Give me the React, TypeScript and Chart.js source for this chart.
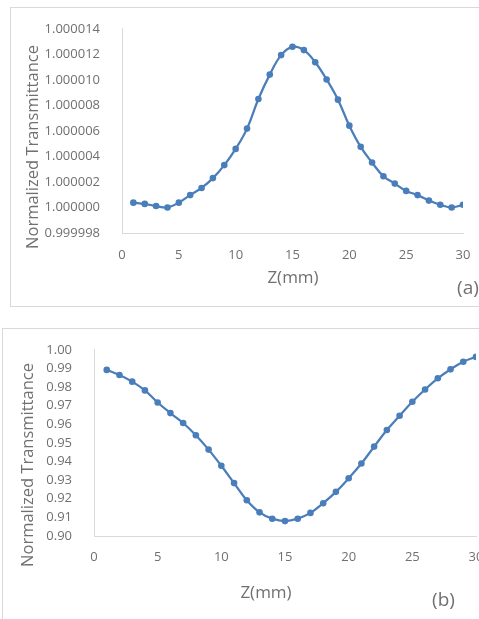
import React, { useEffect, useRef } from "react";
import { Chart, registerables } from "chart.js";

Chart.register(...registerables);

// ---------- data ----------
const zA = [1, 2, 3, 4, 5, 6, 7, 8, 9, 10, 11, 12, 13, 14, 15, 16, 17, 18, 19, 20, 21, 22, 23, 24, 25, 26, 27, 28, 29, 30];
const tA = [
  1.00000038, 1.00000028, 1.00000011, 1.0, 1.00000038, 1.00000097, 1.00000153, 1.0000023, 1.00000332, 1.00000459,
  1.00000618, 1.0000085, 1.00001041, 1.00001194, 1.00001259, 1.00001233, 1.00001138, 1.00001003, 1.00000845, 1.00000641,
  1.00000475, 1.00000352, 1.00000245, 1.00000187, 1.0000013, 1.00000097, 1.00000054, 1.00000021, 1.0, 1.00000021,
];
const yTicksA = [0.999998, 1.0, 1.000002, 1.000004, 1.000006, 1.000008, 1.00001, 1.000012, 1.000014];

const zB = [1, 2, 3, 4, 5, 6, 7, 8, 9, 10, 11, 12, 13, 14, 15, 16, 17, 18, 19, 20, 21, 22, 23, 24, 25, 26, 27, 28, 29, 30];
const tB = [
  0.9892, 0.9865, 0.9829, 0.9782, 0.9717, 0.966, 0.9607, 0.9541, 0.9464, 0.9377,
  0.9284, 0.9192, 0.9127, 0.9093, 0.908, 0.9093, 0.9124, 0.9176, 0.9237, 0.931,
  0.9389, 0.948, 0.9569, 0.9646, 0.9721, 0.9787, 0.9847, 0.9895, 0.9936, 0.9962,
];
const yTicksB = [0.9, 0.91, 0.92, 0.93, 0.94, 0.95, 0.96, 0.97, 0.98, 0.99, 1.0];

const xTicks = [0, 5, 10, 15, 20, 25, 30];

const yTitle = "Normalized Transmittance";
const xTitle = "Z(mm)";

const FONT = "'Open Sans', 'DejaVu Sans', sans-serif";
const TEXT = "#707070";
const AXIS = "#d9d9d9";
const LINE = "#4a7ebb";

type TextItem = { text: string; x: number; y: number; size: number; rotate?: boolean };

type PanelProps = {
  left: number;
  top: number;
  width: number;
  height: number;
  z: number[];
  t: number[];
  yTicks: number[];
  decimals: number;
  plot: { left: number; top: number; right: number; bottom: number };
  yPad: number;
  xPad: number;
  texts: TextItem[];
};

function Panel(p: PanelProps) {
  const ref = useRef<HTMLCanvasElement | null>(null);
  useEffect(() => {
    if (!ref.current) return;
    const yMin = p.yTicks[0];
    const yMax = p.yTicks[p.yTicks.length - 1];
    const textPlugin = {
      id: "panelText",
      afterDraw(chart: any) {
        const ctx = chart.ctx as CanvasRenderingContext2D;
        p.texts.forEach((it) => {
          ctx.save();
          ctx.font = `${it.size}px ${FONT}`;
          ctx.fillStyle = TEXT;
          ctx.textAlign = "center";
          ctx.textBaseline = "middle";
          ctx.translate(it.x, it.y);
          if (it.rotate) ctx.rotate(-Math.PI / 2);
          ctx.fillText(it.text, 0, 0);
          ctx.restore();
        });
      },
    };
    const chart = new Chart(ref.current, {
      type: "line",
      data: {
        datasets: [
          {
            data: p.z.map((zv, i) => ({ x: zv, y: p.t[i] })),
            borderColor: LINE,
            backgroundColor: LINE,
            borderWidth: 2.25,
            pointRadius: 3.3,
            pointBorderWidth: 0,
            pointBackgroundColor: LINE,
            tension: 0.4,
            fill: false,
          },
        ],
      },
      options: {
        animation: false,
        responsive: false,
        maintainAspectRatio: false,
        events: [],
        layout: {
          padding: {
            left: 0,
            top: p.plot.top,
            right: p.width - p.plot.right,
            bottom: 0,
          },
        },
        plugins: {
          legend: { display: false },
          tooltip: { enabled: false },
          title: { display: false },
        },
        scales: {
          x: {
            type: "linear",
            min: 0,
            max: 30,
            grid: { display: false },
            border: { display: true, color: AXIS, width: 1 },
            ticks: {
              font: { family: FONT, size: 13 },
              color: TEXT,
              padding: p.xPad,
              maxRotation: 0,
              autoSkip: false,
              callback: (v: any) => String(v),
            },
            afterBuildTicks: (s: any) => {
              s.ticks = xTicks.map((v) => ({ value: v }));
            },
            afterFit: (s: any) => {
              s.height = p.height - p.plot.bottom;
            },
          },
          y: {
            type: "linear",
            min: yMin,
            max: yMax,
            grid: { display: false },
            border: { display: true, color: AXIS, width: 1 },
            ticks: {
              font: { family: FONT, size: 13 },
              color: TEXT,
              padding: p.yPad,
              autoSkip: false,
              callback: (v: any) => Number(v).toFixed(p.decimals),
            },
            afterBuildTicks: (s: any) => {
              s.ticks = p.yTicks.map((v) => ({ value: v }));
            },
            afterFit: (s: any) => {
              s.width = p.plot.left;
            },
          },
        },
      },
      plugins: [textPlugin],
    } as any);
    return () => chart.destroy();
  }, []);
  return (
    <canvas
      ref={ref}
      width={p.width}
      height={p.height}
      style={{ position: "absolute", left: p.left, top: p.top, width: p.width, height: p.height }}
    />
  );
}

export default function App() {
  useEffect(() => {
    document.body.style.margin = "0";
  }, []);
  return (
    <div style={{ position: "relative", width: 479, height: 619, overflow: "hidden", background: "#fff" }}>
      <div
        style={{
          position: "absolute",
          left: 10,
          top: 7,
          width: 600,
          height: 300,
          border: `1px solid ${AXIS}`,
          boxSizing: "border-box",
        }}
      />
      <div
        style={{
          position: "absolute",
          left: 2,
          top: 328,
          width: 600,
          height: 400,
          border: `1px solid ${AXIS}`,
          boxSizing: "border-box",
        }}
      />
      <Panel
        left={10}
        top={7}
        width={480}
        height={301}
        z={zA}
        t={tA}
        yTicks={yTicksA}
        decimals={6}
        plot={{ left: 112, top: 17, right: 453, bottom: 226 }}
        yPad={14}
        xPad={6}
        texts={[
          { text: yTitle, x: 23, y: 140, size: 16.5, rotate: true },
          { text: xTitle, x: 283, y: 271, size: 17 },
          { text: "(a)", x: 458, y: 282, size: 19 },
        ]}
      />
      <Panel
        left={2}
        top={328}
        width={500}
        height={291}
        z={zB}
        t={tB}
        yTicks={yTicksB}
        decimals={2}
        plot={{ left: 92, top: 17, right: 474, bottom: 208 }}
        yPad={14}
        xPad={5}
        texts={[
          { text: yTitle, x: 26, y: 137, size: 16.5, rotate: true },
          { text: xTitle, x: 264, y: 265, size: 17 },
          { text: "(b)", x: 441.5, y: 273, size: 19 },
        ]}
      />
    </div>
  );
}
